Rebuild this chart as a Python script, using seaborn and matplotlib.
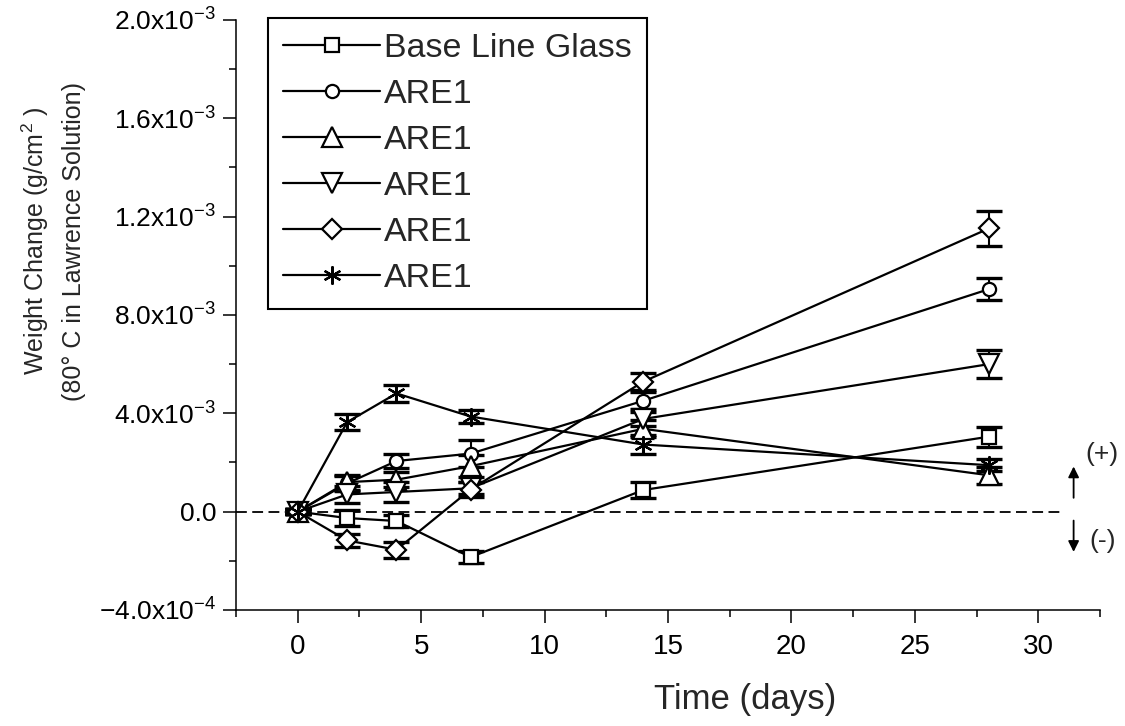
import numpy as np
import pandas as pd
import matplotlib
matplotlib.use('Agg')
import matplotlib.pyplot as plt
import seaborn as sns
from matplotlib.ticker import MultipleLocator, AutoMinorLocator

# sample data (weight change in units of 1e-4 g/cm2)
days = [0, 2, 4, 7, 14, 28]
names = ['Base Line Glass', 'ARE1', 'ARE1', 'ARE1', 'ARE1', 'ARE1']

base_line = [0.0, -0.26, -0.38, -1.85, 0.88, 3.05]
base_line_err = [0.1, 0.33, 0.25, 0.25, 0.33, 0.40]

are1_circle = [0.0, 1.15, 2.06, 2.36, 4.51, 9.05]
are1_circle_err = [0.1, 0.30, 0.30, 0.56, 0.35, 0.45]

are1_up = [0.0, 1.20, 1.30, 1.85, 3.37, 1.48]
are1_up_err = [0.1, 0.30, 0.30, 0.45, 0.35, 0.35]

are1_down = [0.0, 0.70, 0.80, 0.95, 3.77, 6.00]
are1_down_err = [0.1, 0.35, 0.40, 0.25, 0.30, 0.57]

are1_diamond = [0.0, -1.17, -1.55, 0.90, 5.29, 11.52]
are1_diamond_err = [0.1, 0.27, 0.32, 0.30, 0.35, 0.71]

are1_star = [0.0, 3.64, 4.81, 3.87, 2.73, 1.89]
are1_star_err = [0.1, 0.33, 0.35, 0.27, 0.37, 0.25]

scale = 1e-4

yticks = [-4e-4, 0.0, 4e-4, 8e-4, 1.2e-3, 1.6e-3, 2.0e-3]
ytick_labels = [r'$\mathregular{-4.0x10^{-4}}$', '0.0',
                r'$\mathregular{4.0x10^{-3}}$', r'$\mathregular{8.0x10^{-3}}$',
                r'$\mathregular{1.2x10^{-3}}$', r'$\mathregular{1.6x10^{-3}}$',
                r'$\mathregular{2.0x10^{-3}}$']

series = [base_line, are1_circle, are1_up, are1_down, are1_diamond, are1_star]
errors = [base_line_err, are1_circle_err, are1_up_err, are1_down_err,
          are1_diamond_err, are1_star_err]
markers = ['s', 'o', '^', 'v', 'D', (6, 2, 0)]
msizes = [10.5, 9.5, 14, 14, 10, 13]

sns.set_style('ticks')
plt.rcParams['font.family'] = ['Liberation Sans', 'DejaVu Sans']
plt.rcParams['mathtext.default'] = 'regular'

fig = plt.figure(figsize=(11.25, 7.26), dpi=100)
ax = fig.add_axes([0.2098, 0.1598, 0.768, 0.8127])

for vals, err, name, mk, ms in zip(series, errors, names, markers, msizes):
    y = np.array(vals) * scale
    ax.errorbar(days, y, yerr=np.array(err) * scale, fmt='none',
                ecolor='black', elinewidth=1.5, capsize=9.5, capthick=2.4,
                zorder=2)
    sns.lineplot(x=days, y=y, ax=ax, color='black', linewidth=1.6,
                 marker=mk, markersize=ms, markerfacecolor='white',
                 markeredgecolor='black', markeredgewidth=1.6,
                 label=name, zorder=3)

# zero reference line
ax.hlines(0, -2.5, 31, colors='black', linestyles=(0, (6, 3)),
          linewidth=1.3, zorder=1)

# sign arrows at the right
ax.annotate('', xy=(31.43, 1.95e-4), xytext=(31.43, 0.45e-4),
            arrowprops=dict(arrowstyle='-|>', color='black', lw=1.3,
                            mutation_scale=16),
            annotation_clip=False)
ax.annotate('', xy=(31.43, -1.75e-4), xytext=(31.43, -0.25e-4),
            arrowprops=dict(arrowstyle='-|>', color='black', lw=1.3,
                            mutation_scale=16),
            annotation_clip=False)
ax.text(32.56, 2.34e-4, '(+)', fontsize=19, ha='center', va='center')
ax.text(32.6, -1.21e-4, '(-)', fontsize=19, ha='center', va='center')

ax.set_xlim(-2.5, 32.5)
ax.set_ylim(-4e-4, 2.0e-3)
ax.xaxis.set_major_locator(MultipleLocator(5))
ax.xaxis.set_minor_locator(AutoMinorLocator(2))
ax.set_yticks(yticks)
ax.set_yticklabels(ytick_labels)
ax.yaxis.set_minor_locator(AutoMinorLocator(2))

ax.tick_params(which='major', direction='out', length=9.4, width=1.1,
               color='black', labelcolor='black')
ax.tick_params(axis='x', which='major', pad=8, labelsize=20)
ax.tick_params(axis='y', which='major', pad=5, labelsize=19)
ax.tick_params(which='minor', direction='out', length=4.7, width=1.1,
               color='black')

sns.despine(ax=ax)
for side in ['left', 'bottom']:
    ax.spines[side].set_linewidth(1.1)
    ax.spines[side].set_color('black')

ax.set_xlabel('Time (days)', fontsize=25, va='center')
ax.xaxis.set_label_coords(0.589, -0.1525)
ax.set_ylabel('Weight Change (g/cm$\\mathregular{^2}$ )\n(80° C in Lawrence Solution)',
              fontsize=18, linespacing=1.6, va='center')
ax.yaxis.set_label_coords(-0.212, 0.625)

leg = ax.legend(loc='upper left', bbox_to_anchor=(268 / 1125, 1 - 18 / 726),
                bbox_transform=fig.transFigure, borderaxespad=0,
                fontsize=24.5, frameon=True, fancybox=False, framealpha=1,
                edgecolor='black', handlelength=2.85, handletextpad=0.1,
                labelspacing=0.44, borderpad=0.45, markerscale=1.0)
leg.get_frame().set_linewidth(1.5)

plt.savefig('out.png', dpi=100)
